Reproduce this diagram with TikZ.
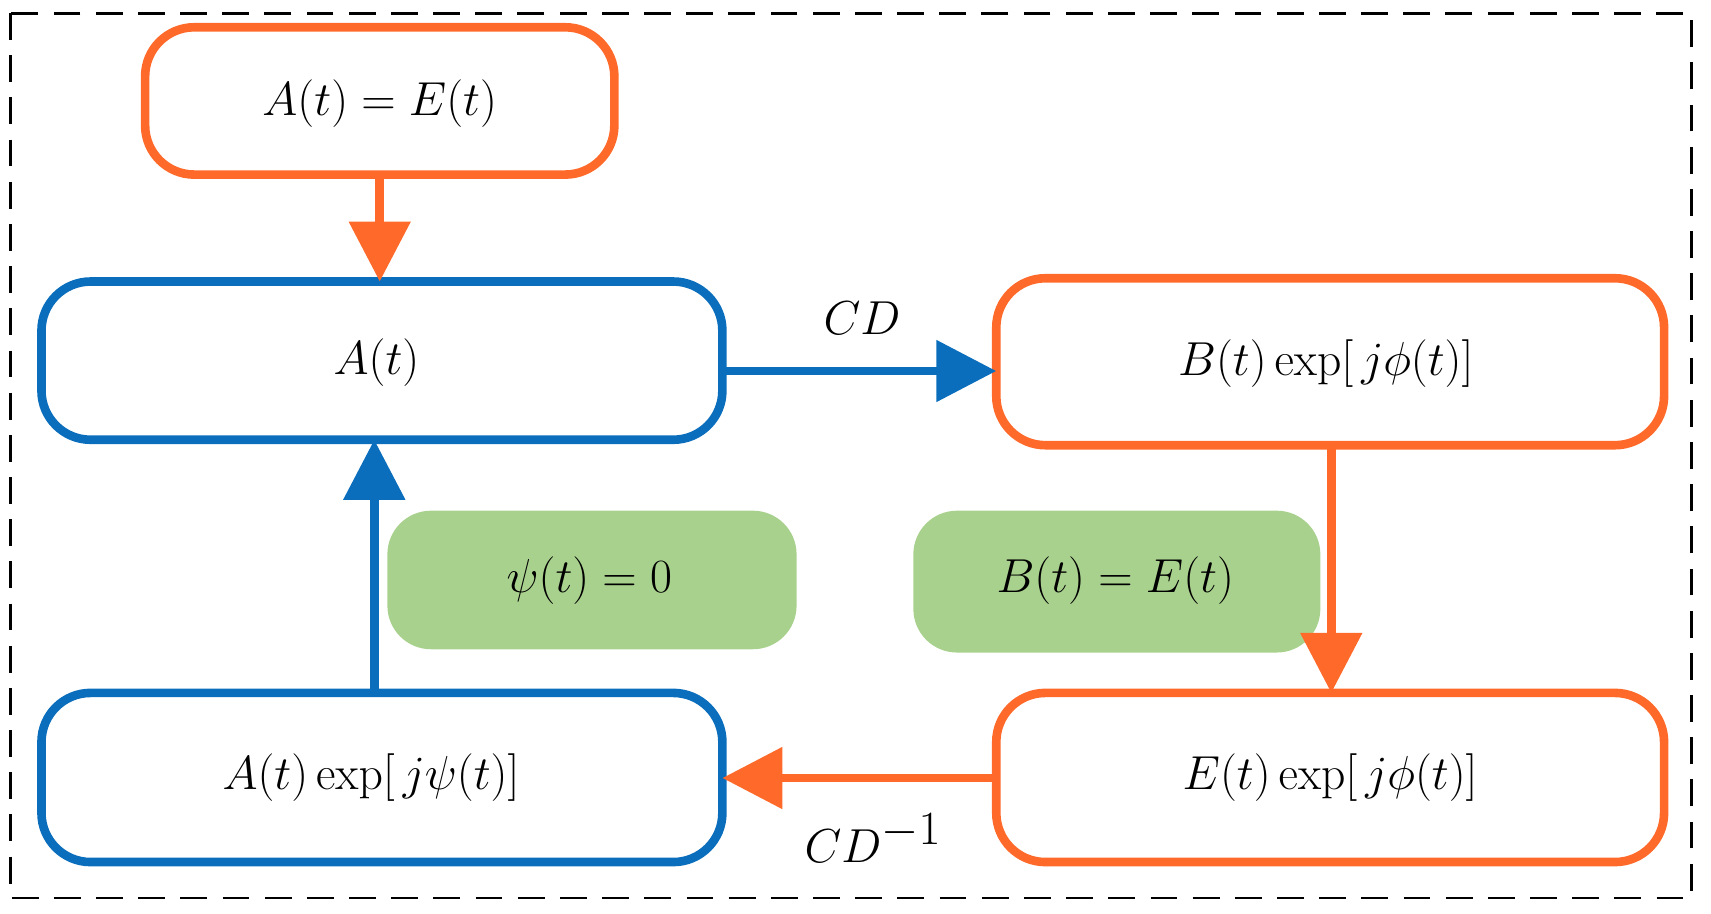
\documentclass[tikz,border=0pt]{standalone}
\usetikzlibrary{arrows.meta}
\definecolor{org}{HTML}{FF6A2B}
\definecolor{blu}{HTML}{0A6EBD}
\definecolor{grn}{HTML}{A9D18E}
\begin{document}
\begin{tikzpicture}[x=0.02cm,y=-0.02cm,
 box/.style={draw,line width=4.5pt,rounded corners=0.9cm,fill=white},
 ob/.style={box,draw=org}, bb/.style={box,draw=blu},
 gb/.style={fill=grn,draw=none,rounded corners=0.8cm},
 txt/.style={font=\fontsize{54}{60}\selectfont},
 arr/.style={line width=4.5pt,-{Triangle[length=1.1cm,width=1.1cm]}}]
\useasboundingbox (0,0) rectangle (1568,837);
\draw[line width=1.5pt,dash pattern=on 14pt off 8pt] (10,12) rectangle (1550,823);
\draw[ob] (133,25) rectangle (563,160);
\node[txt] (t) at (348,95) {$A(t)=E(t)$};
\draw[bb] (38,258) rectangle (662,403);
\node[txt] (a) at (345,332) {$A(t)$};
\draw[ob] (913,255) rectangle (1525,408);
\node[txt] (b) at (1215,333) {$B(t)\,\mathrm{exp}[\,j\phi(t)]$};
\draw[ob] (913,635) rectangle (1525,790);
\node[txt] (e) at (1219,713) {$E(t)\,\mathrm{exp}[\,j\phi(t)]$};
\draw[bb] (38,635) rectangle (662,790);
\node[txt] (c) at (340,713) {$A(t)\,\mathrm{exp}[\,j\psi(t)]$};
\path[gb] (355,468) rectangle (730,595);
\node[font=\fontsize{70}{80}\selectfont] (g1) at (540,532) {$\psi(t)=0$};
\path[gb] (837,468) rectangle (1210,598);
\node[txt] (g2) at (1022,532) {$B(t)=E(t)$};
\coordinate (p1) at (348,160); \coordinate (p2) at (348,258);
\draw[arr,org] (p1) -- (p2);
\coordinate (p3) at (662,340); \coordinate (p4) at (913,340);
\draw[arr,blu] (p3) -- (p4);
\node[txt] (cd) at (790,292) {$CD$};
\coordinate (p5) at (1220,408); \coordinate (p6) at (1220,635);
\draw[arr,org] (p5) -- (p6);
\coordinate (p7) at (913,713); \coordinate (p8) at (662,713);
\draw[arr,org] (p7) -- (p8);
\node[txt] (cdi) at (800,768) {$CD^{-1}$};
\coordinate (p9) at (343,635); \coordinate (p10) at (343,403);
\draw[arr,blu] (p9) -- (p10);
\end{tikzpicture}
\end{document}
